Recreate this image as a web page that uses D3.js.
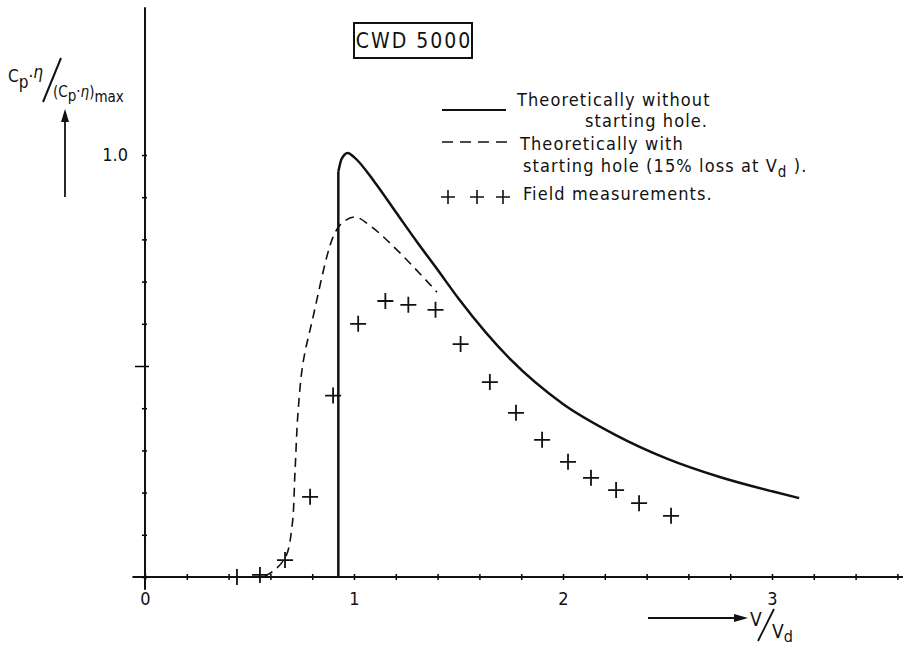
<!DOCTYPE html>
<html>
<head>
<meta charset="utf-8">
<script src="https://cdn.jsdelivr.net/npm/d3@7"></script>
<style>
    body { margin: 0; background: #fff; }
    text { font-family: "DejaVu Sans Condensed", "Liberation Sans Narrow", sans-serif; fill: #111; }
</style>
</head>
<body>
<div id="chart-area"></div>
<script>
// Data (x = V/Vd, y = cp·η/(cp·η)max)
const solidCurve = [
    [0.925, 0], [0.925, 0.96], [0.94, 0.99], [0.97, 1.005], [1.0, 0.995],
    [1.1, 0.935], [1.2, 0.865], [1.3, 0.795], [1.4, 0.728], [1.5, 0.66],
    [1.75, 0.515], [2.0, 0.41], [2.25, 0.337], [2.5, 0.28], [2.75, 0.237],
    [3.0, 0.203], [3.13, 0.187]
];
const dashedCurve = [
    [0.50, 0], [0.584, 0.005], [0.67, 0.045], [0.703, 0.118], [0.718, 0.253],
    [0.732, 0.389], [0.756, 0.507], [0.80, 0.607], [0.90, 0.806], [0.943, 0.839],
    [1.005, 0.853], [1.086, 0.829], [1.22, 0.768], [1.397, 0.675]
];
const fieldX = [0.44, 0.55, 0.67, 0.79, 0.90, 1.02, 1.15, 1.26, 1.39, 1.51,
    1.65, 1.775, 1.90, 2.024, 2.134, 2.254, 2.364, 2.517];
const fieldY = [0, 0.005, 0.04, 0.19, 0.43, 0.60, 0.654, 0.645, 0.633, 0.552,
    0.462, 0.389, 0.325, 0.273, 0.235, 0.206, 0.175, 0.145];
const xTicks = d3.range(0, 18.5).map(d => d / 5);   // every 0.2
const xLabels = ["0", "1", "2", "3"];
const yTicks = d3.range(0, 10.5).map(d => d / 10);  // every 0.1
const legendLines = [
    "Theoretically  without",
    "starting  hole.",
    "Theoretically  with",
    "starting hole (15% loss at V",
    "Field  measurements."
];

const width = 903, height = 649;

const svg = d3.select("#chart-area").append("svg")
    .attr("width", width)
    .attr("height", height);

// Scales
const x = d3.scaleLinear().domain([0, 3]).range([145, 772]);
const y = d3.scaleLinear().domain([0, 1]).range([577, 155]);

// X axis
const xAxisCall = d3.axisBottom(x)
    .tickValues(xTicks)
    .tickSize(3)
    .tickFormat(d => Number.isInteger(d) ? xLabels[d] : "");
const xAxis = svg.append("g")
    .attr("transform", "translate(0," + y(0) + ")")
    .call(xAxisCall);
xAxis.select(".domain").remove();
xAxis.selectAll(".tick line").attr("y1", -3).attr("stroke-width", 1.5);
xAxis.selectAll(".tick text")
    .attr("y", 15)
    .attr("font-size", 18);
xAxis.append("line")
    .attr("x1", x(-0.06)).attr("x2", width)
    .attr("stroke", "#111").attr("stroke-width", 2);

// Y axis
const yAxisCall = d3.axisLeft(y)
    .tickValues(yTicks)
    .tickSize(3)
    .tickFormat(d => d === 1 ? "1.0" : "");
const yAxis = svg.append("g")
    .attr("transform", "translate(" + x(0) + ",0)")
    .call(yAxisCall);
yAxis.select(".domain").remove();
yAxis.selectAll(".tick line")
    .attr("x2", d => d === 0.5 ? -10 : -3)
    .attr("x1", d => d === 0.5 ? 4 : 2)
    .attr("stroke-width", 1.5);
yAxis.selectAll(".tick text")
    .attr("x", -17)
    .attr("font-size", 18);
yAxis.append("line")
    .attr("y1", y(-0.03)).attr("y2", y(1.35))
    .attr("stroke", "#111").attr("stroke-width", 2);

// Curves
const line = d3.line()
    .x(d => x(d[0]))
    .y(d => y(d[1]))
    .curve(d3.curveMonotoneX);

svg.append("path")
    .attr("d", d3.line().x(d => x(d[0])).y(d => y(d[1]))(solidCurve.slice(0, 2)))
    .attr("fill", "none").attr("stroke", "#111").attr("stroke-width", 2.5);
svg.append("path")
    .attr("d", line(solidCurve.slice(1)))
    .attr("fill", "none").attr("stroke", "#111").attr("stroke-width", 2.5);

svg.append("path")
    .attr("d", d3.line().x(d => x(d[0])).y(d => y(d[1]))
        .curve(d3.curveCatmullRom.alpha(0.5))(dashedCurve))
    .attr("fill", "none")
    .attr("stroke", "#111")
    .attr("stroke-width", 1.6)
    .attr("stroke-dasharray", "9,6");

// Field measurements
const plus = "M-8,0H8M0,-8V8";
svg.append("g").selectAll("path")
    .data(fieldX.map((d, i) => [d, fieldY[i]]))
    .enter().append("path")
    .attr("transform", d => "translate(" + x(d[0]) + "," + y(d[1]) + ")")
    .attr("d", plus)
    .attr("stroke", "#111")
    .attr("stroke-width", 1.8);

// Title box
svg.append("rect")
    .attr("x", 354).attr("y", 23)
    .attr("width", 118).attr("height", 35)
    .attr("fill", "none").attr("stroke", "#111").attr("stroke-width", 2);
svg.append("text")
    .attr("x", 414).attr("y", 48)
    .attr("text-anchor", "middle")
    .attr("font-size", 21)
    .attr("letter-spacing", 2)
    .text("CWD 5000");

// Legend
const legend = svg.append("g");
legend.append("line")
    .attr("x1", 442).attr("x2", 506).attr("y1", 110).attr("y2", 110)
    .attr("stroke", "#111").attr("stroke-width", 2);
legend.append("line")
    .attr("x1", 442).attr("x2", 510).attr("y1", 142).attr("y2", 142)
    .attr("stroke", "#111").attr("stroke-width", 1.6)
    .attr("stroke-dasharray", "11,7");
[448, 477, 503].forEach(px => {
    legend.append("path")
        .attr("transform", "translate(" + px + ",197)")
        .attr("d", "M-7,0H7M0,-7V7")
        .attr("stroke", "#111").attr("stroke-width", 1.6);
});
const legendPos = [[517, 106], [585, 127], [520, 150], [523, 172], [523, 200]];
legendLines.forEach((t, i) => {
    const txt = legend.append("text")
        .attr("x", legendPos[i][0]).attr("y", legendPos[i][1])
        .attr("font-size", 18)
        .attr("letter-spacing", 1.1)
        .text(t);
    if (i === 3) {
        txt.append("tspan").attr("dy", 5).attr("font-size", 15).text("d");
        txt.append("tspan").attr("dy", -5).text(" ).");
    }
});

// Y label: cp·η / (cp·η)max with arrow
const yl = svg.append("g");
const t1 = yl.append("text").attr("x", 8).attr("y", 82).attr("font-size", 17);
t1.append("tspan").text("C");
t1.append("tspan").attr("dy", 6).text("p");
t1.append("tspan").attr("dy", -6).text("·");
t1.append("tspan").attr("dy", -4).attr("font-style", "italic").text("η");
yl.append("line")
    .attr("x1", 43).attr("y1", 102).attr("x2", 61).attr("y2", 58)
    .attr("stroke", "#111").attr("stroke-width", 2);
const t2 = yl.append("text").attr("x", 53).attr("y", 97).attr("font-size", 15);
t2.append("tspan").text("(C");
t2.append("tspan").attr("dy", 4).text("p");
t2.append("tspan").attr("dy", -4).text("·");
t2.append("tspan").attr("font-style", "italic").text("η");
t2.append("tspan").text(")");
t2.append("tspan").attr("dy", 5).text("max");
yl.append("line")
    .attr("x1", 65).attr("y1", 197).attr("x2", 65).attr("y2", 118)
    .attr("stroke", "#111").attr("stroke-width", 1.8);
yl.append("path")
    .attr("d", "M61,122 L65,109 L69,122 Z")
    .attr("fill", "#111");

// X label: V/Vd with arrow
const xl = svg.append("g");
xl.append("line")
    .attr("x1", 648).attr("y1", 618).attr("x2", 738).attr("y2", 618)
    .attr("stroke", "#111").attr("stroke-width", 1.8);
xl.append("path")
    .attr("d", "M734,614 L748,618 L734,622 Z")
    .attr("fill", "#111");
xl.append("text")
    .attr("x", 750).attr("y", 626).attr("font-size", 19).text("V");
xl.append("line")
    .attr("x1", 758).attr("y1", 641).attr("x2", 774).attr("y2", 609)
    .attr("stroke", "#111").attr("stroke-width", 1.8);
const t3 = xl.append("text").attr("x", 772).attr("y", 638).attr("font-size", 19);
t3.append("tspan").text("V");
t3.append("tspan").attr("dy", 4).attr("font-size", 16).text("d");
</script>
</body>
</html>
